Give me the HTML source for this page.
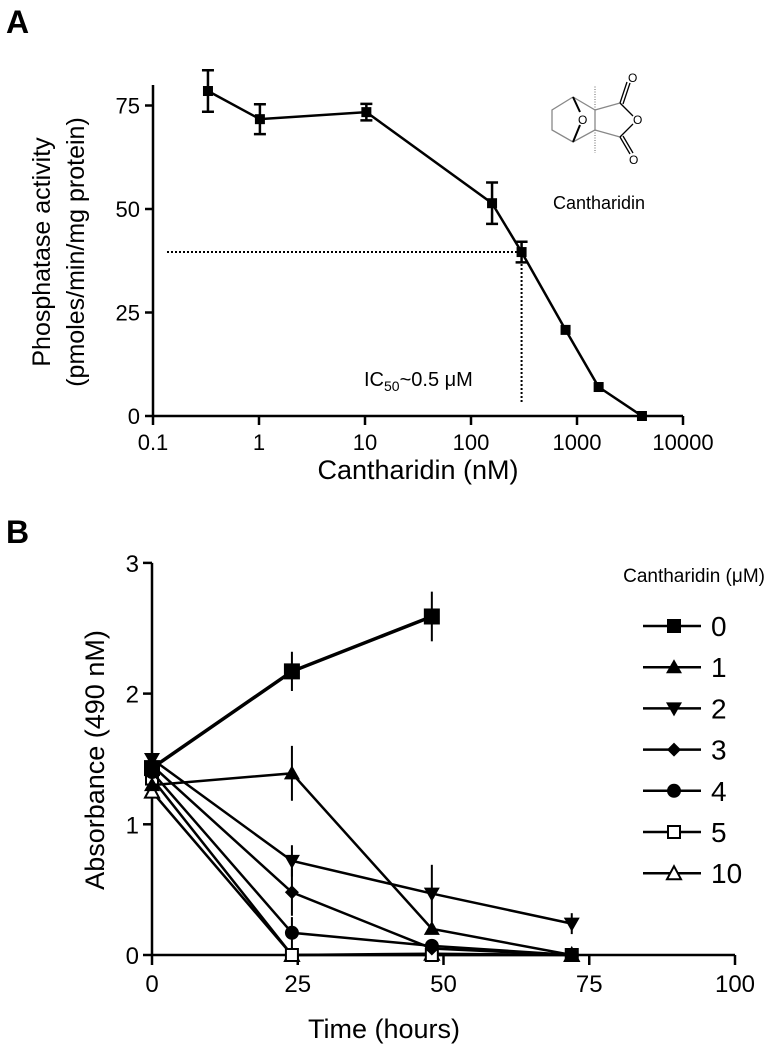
<!DOCTYPE html>
<html><head><meta charset="utf-8"><style>
body{margin:0;background:#fff}
svg{display:block;font-family:"Liberation Sans",Arial,sans-serif}
</style></head><body>
<svg id="fig" width="768" height="1050" viewBox="0 0 768 1050">
<text x="6" y="33" font-size="32" font-weight="bold">A</text>
<text x="6" y="543" font-size="32" font-weight="bold">B</text>
<g id="pa"></g>
<g id="pb"></g>
<g stroke="#888" stroke-width="1.3" fill="none">
<polyline points="573,97 552,110 552,130 573,142 595,130 595,110 573,97"/>
<line x1="595" y1="110" x2="620" y2="103"/><line x1="595" y1="130" x2="620" y2="137"/>
<line x1="620" y1="103" x2="633" y2="116" stroke="#000"/><line x1="620" y1="137" x2="633" y2="124" stroke="#000"/>
<line x1="620" y1="103" x2="627" y2="82" stroke="#000"/><line x1="623" y1="104" x2="630" y2="83" stroke="#000"/>
<line x1="620" y1="137" x2="630" y2="154" stroke="#000"/><line x1="623" y1="136" x2="633" y2="153" stroke="#000"/>
<line x1="595" y1="110" x2="595" y2="85" stroke-dasharray="1,1.5"/><line x1="595" y1="130" x2="595" y2="153" stroke-dasharray="1,1.5"/>
<line x1="573" y1="97" x2="580" y2="112" stroke="#000" stroke-width="2"/><line x1="573" y1="142" x2="580" y2="125" stroke="#000" stroke-width="2"/>
</g>
<text x="628" y="82" font-size="12">O</text>
<text x="633" y="124" font-size="12">O</text>
<text x="629" y="164" font-size="12">O</text>
<text x="578" y="124" font-size="12">O</text>
<text x="553" y="209" font-size="18">Cantharidin</text>
</svg>
<script>
// ---------- Panel A data ----------
const concA = [0.33, 1.02, 10.3, 158, 300, 780, 1600, 4100];
const actA = [78.5, 71.7, 73.4, 51.4, 39.6, 20.8, 7, 0];
const errA = [5, 3.6, 2, 5, 2.5, 0, 0, 0];
const yTicksA = [0, 25, 50, 75];
const xTicksA = [0.1, 1, 10, 100, 1000, 10000];
const ic50A = 300;
const ic50Y = 39.6;
// ---------- Panel B data ----------
const seriesNames = ["0", "1", "2", "3", "4", "5", "10"];
const markersB = ["square", "tri", "tridown", "diamond", "circle", "osquare", "otri"];
const timesB = [0, 24, 48, 72];
const s0 = [1.43, 2.17, 2.59, null];
const s1 = [1.30, 1.39, 0.20, 0];
const s2 = [1.50, 0.72, 0.47, 0.24];
const s3 = [1.45, 0.48, 0.05, 0];
const s4 = [1.40, 0.17, 0.07, 0];
const s5 = [1.35, 0, 0, 0];
const s10 = [1.25, 0, 0.01, 0];
const e0 = [0, 0.15, 0.19, 0];
const e1 = [0, 0.21, 0, 0];
const e2 = [0, 0.12, 0.22, 0.08];
const e3 = [0, 0.18, 0, 0];
const e4 = [0, 0.12, 0, 0];
const e5 = [0, 0, 0, 0];
const e10 = [0, 0, 0, 0];
const xTicksB = [0, 25, 50, 75, 100];
const yTicksB = [0, 1, 2, 3];

const NS = "http://www.w3.org/2000/svg";
function mk(parent, tag, attrs, text) {
  const el = document.createElementNS(NS, tag);
  for (const k in attrs) el.setAttribute(k, attrs[k]);
  if (text !== undefined) el.textContent = text;
  parent.appendChild(el);
  return el;
}
// ---------- Panel A ----------
const pa = document.getElementById("pa");
const xA = v => 153 + (Math.log10(v) + 1) * 106;
const yA = v => 416 - v * 4.14;
let el;
el = mk(pa, "line", {x1: 153, y1: 416, x2: 153, y2: 85, stroke: "#000", "stroke-width": 2.5});


el = mk(pa, "line", {x1: 153, y1: 416, x2: xA(10000), y2: 416, stroke: "#000", "stroke-width": 2.5});


yTicksA.forEach(t => {
  mk(pa, "line", {x1: 145, y1: yA(t), x2: 153, y2: yA(t), stroke: "#000", "stroke-width": 2.5});
  el = mk(pa, "text", {x: 140, y: yA(t) + 8, "font-size": 22, "text-anchor": "end"}, String(t));
  
  
});
xTicksA.forEach(t => {
  mk(pa, "line", {x1: xA(t), y1: 416, x2: xA(t), y2: 425, stroke: "#000", "stroke-width": 2.5});
  el = mk(pa, "text", {x: xA(t), y: 450, "font-size": 22, "text-anchor": "middle"}, String(t));
  
  
});
el = mk(pa, "text", {x: 418, y: 479, "font-size": 27, "text-anchor": "middle"}, "Cantharidin (nM)");


el = mk(pa, "text", {transform: "translate(50,252) rotate(-90)", "font-size": 25, "text-anchor": "middle"}, "Phosphatase activity");


el = mk(pa, "text", {transform: "translate(84,252) rotate(-90)", "font-size": 25, "text-anchor": "middle"}, "(pmoles/min/mg protein)");


// IC50 guides
el = mk(pa, "line", {x1: 167, y1: yA(ic50Y), x2: xA(ic50A), y2: yA(ic50Y), stroke: "#000", "stroke-width": 2, "stroke-dasharray": "2,2"});


el = mk(pa, "line", {x1: xA(ic50A), y1: yA(ic50Y), x2: xA(ic50A), y2: 402, stroke: "#000", "stroke-width": 2, "stroke-dasharray": "2,2"});


el = mk(pa, "text", {x: 364, y: 386, "font-size": 20}, "");


el.innerHTML = 'IC<tspan font-size="14" dy="5">50</tspan><tspan dy="-5">~0.5 μM</tspan>';
el = mk(pa, "polyline", {points: concA.map((c, i) => xA(c) + "," + yA(actA[i])).join(" "), fill: "none", stroke: "#000", "stroke-width": 2.5});


concA.forEach((c, i) => {
  const x = xA(c), y = yA(actA[i]);
  if (errA[i] > 0) {
    const y1 = yA(actA[i] + errA[i]), y2 = yA(actA[i] - errA[i]);
    el = mk(pa, "path", {d: `M${x},${y1}V${y2}M${x - 6},${y1}H${x + 6}M${x - 6},${y2}H${x + 6}`, stroke: "#000", "stroke-width": 2.5, fill: "none"});
    
    
  }
  el = mk(pa, "rect", {x: x - 5, y: y - 5, width: 10, height: 10, fill: "#000"});
  
  
});
// ---------- Panel B ----------
const pb = document.getElementById("pb");
const xB = v => 152 + v * 5.83;
const yB = v => 955 - v * 130.7;
el = mk(pb, "line", {x1: 152, y1: 955, x2: 152, y2: yB(3), stroke: "#000", "stroke-width": 2.5});


el = mk(pb, "line", {x1: 152, y1: 955, x2: xB(100), y2: 955, stroke: "#000", "stroke-width": 2.5});


yTicksB.forEach(t => {
  mk(pb, "line", {x1: 143, y1: yB(t), x2: 152, y2: yB(t), stroke: "#000", "stroke-width": 2.5});
  el = mk(pb, "text", {x: 139, y: yB(t) + 9, "font-size": 24, "text-anchor": "end"}, String(t));
  
  
});
xTicksB.forEach(t => {
  mk(pb, "line", {x1: xB(t), y1: 955, x2: xB(t), y2: 965, stroke: "#000", "stroke-width": 2.5});
  el = mk(pb, "text", {x: xB(t), y: 992, "font-size": 24, "text-anchor": "middle"}, String(t));
  
  
});
el = mk(pb, "text", {x: 384, y: 1038, "font-size": 27, "text-anchor": "middle"}, "Time (hours)");


el = mk(pb, "text", {transform: "translate(104,760) rotate(-90)", "font-size": 27, "text-anchor": "middle"}, "Absorbance (490 nM)");



function marker(g, type, x, y, big) {
  const r = big ? 8 : 7;
  let m;
  if (type === "square") m = mk(g, "rect", {x: x - r, y: y - r, width: 2 * r, height: 2 * r, fill: "#000"});
  else if (type === "osquare") m = mk(g, "rect", {x: x - 6, y: y - 6, width: 12, height: 12, fill: "#fff", stroke: "#000", "stroke-width": 2});
  else if (type === "tri") m = mk(g, "polygon", {points: `${x},${y - 8} ${x - 8},${y + 6} ${x + 8},${y + 6}`, fill: "#000"});
  else if (type === "otri") m = mk(g, "polygon", {points: `${x},${y - 7} ${x - 7},${y + 6} ${x + 7},${y + 6}`, fill: "#fff", stroke: "#000", "stroke-width": 2});
  else if (type === "tridown") m = mk(g, "polygon", {points: `${x},${y + 8} ${x - 8},${y - 6} ${x + 8},${y - 6}`, fill: "#000"});
  else if (type === "diamond") m = mk(g, "polygon", {points: `${x},${y - 7} ${x + 7},${y} ${x},${y + 7} ${x - 7},${y}`, fill: "#000"});
  else m = mk(g, "circle", {cx: x, cy: y, r: 7, fill: "#000"});
  return m;
}
const allS = [s0, s1, s2, s3, s4, s5, s10];
const allE = [e0, e1, e2, e3, e4, e5, e10];
for (let k = allS.length - 1; k >= 0; k--) {
  const s = allS[k], e = allE[k];
  const g = mk(pb, "g", {});
  
  
  const pts = [];
  timesB.forEach((t, i) => { if (s[i] !== null) pts.push(xB(t) + "," + yB(s[i])); });
  el = mk(g, "polyline", {points: pts.join(" "), fill: "none", stroke: "#000", "stroke-width": k === 0 ? 3.5 : 2.5});
  
  
  timesB.forEach((t, i) => {
    if (s[i] === null) return;
    if (e[i] > 0) {
      el = mk(g, "line", {x1: xB(t), y1: yB(s[i] + e[i]), x2: xB(t), y2: yB(Math.max(0, s[i] - e[i])), stroke: "#000", "stroke-width": 2});
      
      
    }
    el = marker(g, markersB[k], xB(t), yB(s[i]), k === 0);
    
    
  });
}
// legend
const lg = mk(pb, "g", {});


el = mk(lg, "text", {x: 765, y: 582, "font-size": 19, "text-anchor": "end"}, "Cantharidin (μM)");


seriesNames.forEach((n, k) => {
  const y = 626 + k * 41.2;
  const g = mk(lg, "g", {});
  
  
  mk(g, "line", {x1: 643, y1: y, x2: 701, y2: y, stroke: "#000", "stroke-width": 2.5});
  marker(g, markersB[k], 674, y, false);
  mk(g, "text", {x: 711, y: y + 10, "font-size": 28}, n);
});
</script>
</body></html>
